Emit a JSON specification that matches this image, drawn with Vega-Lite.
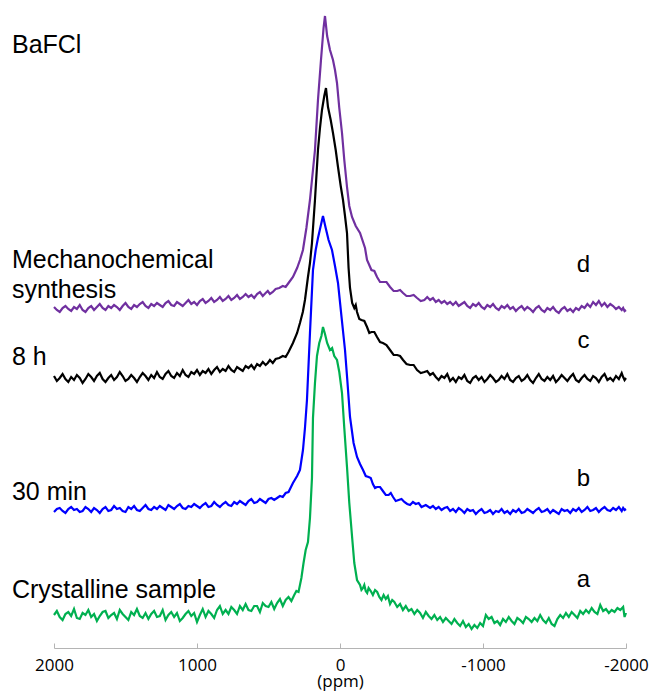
{
  "$schema": "https://vega.github.io/schema/vega-lite/v6.json",
  "width": 572,
  "height": 640,
  "autosize": "none",
  "padding": {"left": 54, "top": 8, "right": 25, "bottom": 50},
  "background": "white",
  "config": {"view": {"stroke": null}},
  "datasets": {
    "spectra": [
      {"s":"a","x":2000,"y":33},{"s":"a","x":1980,"y":37},{"s":"a","x":1960,"y":31},{"s":"a","x":1940,"y":28},{"s":"a","x":1920,"y":34},{"s":"a","x":1900,"y":36},{"s":"a","x":1880,"y":32},{"s":"a","x":1860,"y":39},{"s":"a","x":1840,"y":30},{"s":"a","x":1820,"y":29},{"s":"a","x":1800,"y":35},{"s":"a","x":1780,"y":33},{"s":"a","x":1760,"y":38},{"s":"a","x":1740,"y":31},{"s":"a","x":1720,"y":34},{"s":"a","x":1700,"y":27},{"s":"a","x":1680,"y":32},{"s":"a","x":1660,"y":36},{"s":"a","x":1640,"y":37},{"s":"a","x":1620,"y":30},{"s":"a","x":1600,"y":33},{"s":"a","x":1580,"y":35},{"s":"a","x":1560,"y":29},{"s":"a","x":1540,"y":38},{"s":"a","x":1520,"y":34},{"s":"a","x":1500,"y":31},{"s":"a","x":1480,"y":28},{"s":"a","x":1460,"y":36},{"s":"a","x":1440,"y":33},{"s":"a","x":1420,"y":39},{"s":"a","x":1400,"y":32},{"s":"a","x":1380,"y":30},{"s":"a","x":1360,"y":35},{"s":"a","x":1340,"y":29},{"s":"a","x":1320,"y":34},{"s":"a","x":1300,"y":37},{"s":"a","x":1280,"y":31},{"s":"a","x":1260,"y":32},{"s":"a","x":1240,"y":38},{"s":"a","x":1220,"y":28},{"s":"a","x":1200,"y":33},{"s":"a","x":1180,"y":36},{"s":"a","x":1160,"y":31},{"s":"a","x":1140,"y":35},{"s":"a","x":1120,"y":27},{"s":"a","x":1100,"y":30},{"s":"a","x":1080,"y":34},{"s":"a","x":1060,"y":37},{"s":"a","x":1040,"y":32},{"s":"a","x":1020,"y":35},{"s":"a","x":1000,"y":26},{"s":"a","x":980,"y":33},{"s":"a","x":960,"y":39},{"s":"a","x":940,"y":31},{"s":"a","x":920,"y":37},{"s":"a","x":900,"y":34},{"s":"a","x":880,"y":30},{"s":"a","x":860,"y":38},{"s":"a","x":840,"y":42},{"s":"a","x":820,"y":34},{"s":"a","x":800,"y":38},{"s":"a","x":780,"y":34},{"s":"a","x":760,"y":41},{"s":"a","x":740,"y":38},{"s":"a","x":720,"y":34},{"s":"a","x":700,"y":42},{"s":"a","x":680,"y":38},{"s":"a","x":660,"y":44},{"s":"a","x":640,"y":38},{"s":"a","x":620,"y":37},{"s":"a","x":600,"y":42},{"s":"a","x":580,"y":42},{"s":"a","x":560,"y":36},{"s":"a","x":540,"y":45},{"s":"a","x":520,"y":42},{"s":"a","x":500,"y":41},{"s":"a","x":480,"y":46},{"s":"a","x":460,"y":39},{"s":"a","x":440,"y":45},{"s":"a","x":420,"y":49},{"s":"a","x":400,"y":42},{"s":"a","x":380,"y":48},{"s":"a","x":360,"y":51},{"s":"a","x":340,"y":47},{"s":"a","x":320,"y":53},{"s":"a","x":305,"y":57},{"s":"a","x":290,"y":56},{"s":"a","x":270,"y":70},{"s":"a","x":255,"y":85},{"s":"a","x":240,"y":98},{"s":"a","x":224,"y":106},{"s":"a","x":210,"y":130},{"s":"a","x":196,"y":170},{"s":"a","x":189,"y":230},{"s":"a","x":175,"y":265},{"s":"a","x":161,"y":292},{"s":"a","x":145,"y":305},{"s":"a","x":130,"y":312},{"s":"a","x":119,"y":321},{"s":"a","x":105,"y":314},{"s":"a","x":90,"y":305},{"s":"a","x":70,"y":298},{"s":"a","x":55,"y":300},{"s":"a","x":40,"y":292},{"s":"a","x":21,"y":288},{"s":"a","x":5,"y":276},{"s":"a","x":-14,"y":255},{"s":"a","x":-30,"y":220},{"s":"a","x":-49,"y":181},{"s":"a","x":-65,"y":145},{"s":"a","x":-84,"y":112},{"s":"a","x":-100,"y":85},{"s":"a","x":-119,"y":68},{"s":"a","x":-140,"y":63},{"s":"a","x":-150,"y":58},{"s":"a","x":-161,"y":60},{"s":"a","x":-170,"y":63},{"s":"a","x":-180,"y":57},{"s":"a","x":-190,"y":55},{"s":"a","x":-200,"y":60},{"s":"a","x":-215,"y":57},{"s":"a","x":-230,"y":53},{"s":"a","x":-245,"y":58},{"s":"a","x":-260,"y":56},{"s":"a","x":-275,"y":51},{"s":"a","x":-290,"y":48},{"s":"a","x":-305,"y":53},{"s":"a","x":-320,"y":49},{"s":"a","x":-335,"y":52},{"s":"a","x":-350,"y":44},{"s":"a","x":-365,"y":48},{"s":"a","x":-380,"y":46},{"s":"a","x":-400,"y":41},{"s":"a","x":-420,"y":44},{"s":"a","x":-440,"y":38},{"s":"a","x":-460,"y":42},{"s":"a","x":-480,"y":37},{"s":"a","x":-500,"y":39},{"s":"a","x":-520,"y":34},{"s":"a","x":-540,"y":38},{"s":"a","x":-560,"y":35},{"s":"a","x":-580,"y":30},{"s":"a","x":-600,"y":36},{"s":"a","x":-620,"y":32},{"s":"a","x":-640,"y":29},{"s":"a","x":-660,"y":33},{"s":"a","x":-680,"y":28},{"s":"a","x":-700,"y":31},{"s":"a","x":-720,"y":26},{"s":"a","x":-740,"y":30},{"s":"a","x":-760,"y":27},{"s":"a","x":-780,"y":24},{"s":"a","x":-800,"y":29},{"s":"a","x":-820,"y":25},{"s":"a","x":-840,"y":22},{"s":"a","x":-860,"y":27},{"s":"a","x":-880,"y":21},{"s":"a","x":-900,"y":24},{"s":"a","x":-920,"y":19},{"s":"a","x":-940,"y":23},{"s":"a","x":-960,"y":20},{"s":"a","x":-980,"y":25},{"s":"a","x":-1000,"y":22},{"s":"a","x":-1020,"y":33},{"s":"a","x":-1040,"y":29},{"s":"a","x":-1060,"y":31},{"s":"a","x":-1080,"y":25},{"s":"a","x":-1100,"y":27},{"s":"a","x":-1120,"y":23},{"s":"a","x":-1140,"y":29},{"s":"a","x":-1160,"y":26},{"s":"a","x":-1180,"y":31},{"s":"a","x":-1200,"y":27},{"s":"a","x":-1220,"y":24},{"s":"a","x":-1240,"y":30},{"s":"a","x":-1260,"y":28},{"s":"a","x":-1280,"y":25},{"s":"a","x":-1300,"y":31},{"s":"a","x":-1320,"y":29},{"s":"a","x":-1340,"y":26},{"s":"a","x":-1360,"y":30},{"s":"a","x":-1380,"y":27},{"s":"a","x":-1400,"y":33},{"s":"a","x":-1420,"y":28},{"s":"a","x":-1440,"y":25},{"s":"a","x":-1460,"y":30},{"s":"a","x":-1480,"y":24},{"s":"a","x":-1500,"y":22},{"s":"a","x":-1520,"y":29},{"s":"a","x":-1540,"y":33},{"s":"a","x":-1560,"y":30},{"s":"a","x":-1580,"y":35},{"s":"a","x":-1600,"y":31},{"s":"a","x":-1620,"y":36},{"s":"a","x":-1640,"y":33},{"s":"a","x":-1660,"y":30},{"s":"a","x":-1680,"y":37},{"s":"a","x":-1700,"y":34},{"s":"a","x":-1720,"y":38},{"s":"a","x":-1740,"y":35},{"s":"a","x":-1760,"y":40},{"s":"a","x":-1780,"y":36},{"s":"a","x":-1800,"y":34},{"s":"a","x":-1820,"y":43},{"s":"a","x":-1840,"y":37},{"s":"a","x":-1860,"y":39},{"s":"a","x":-1880,"y":35},{"s":"a","x":-1900,"y":38},{"s":"a","x":-1920,"y":36},{"s":"a","x":-1940,"y":40},{"s":"a","x":-1960,"y":38},{"s":"a","x":-1980,"y":41},{"s":"a","x":-1990,"y":31},{"s":"a","x":-2000,"y":35},

      {"s":"b","x":2000,"y":136},{"s":"b","x":1980,"y":139},{"s":"b","x":1960,"y":140},{"s":"b","x":1940,"y":137},{"s":"b","x":1920,"y":135},{"s":"b","x":1900,"y":139},{"s":"b","x":1880,"y":141},{"s":"b","x":1860,"y":138},{"s":"b","x":1840,"y":139},{"s":"b","x":1820,"y":136},{"s":"b","x":1800,"y":137},{"s":"b","x":1780,"y":141},{"s":"b","x":1760,"y":139},{"s":"b","x":1740,"y":136},{"s":"b","x":1720,"y":140},{"s":"b","x":1700,"y":138},{"s":"b","x":1680,"y":135},{"s":"b","x":1660,"y":139},{"s":"b","x":1640,"y":141},{"s":"b","x":1620,"y":137},{"s":"b","x":1600,"y":138},{"s":"b","x":1580,"y":142},{"s":"b","x":1560,"y":139},{"s":"b","x":1540,"y":140},{"s":"b","x":1520,"y":137},{"s":"b","x":1500,"y":136},{"s":"b","x":1480,"y":141},{"s":"b","x":1460,"y":139},{"s":"b","x":1440,"y":142},{"s":"b","x":1420,"y":138},{"s":"b","x":1400,"y":137},{"s":"b","x":1380,"y":140},{"s":"b","x":1360,"y":143},{"s":"b","x":1340,"y":139},{"s":"b","x":1320,"y":138},{"s":"b","x":1300,"y":141},{"s":"b","x":1280,"y":139},{"s":"b","x":1260,"y":142},{"s":"b","x":1240,"y":140},{"s":"b","x":1220,"y":138},{"s":"b","x":1200,"y":143},{"s":"b","x":1180,"y":141},{"s":"b","x":1160,"y":139},{"s":"b","x":1140,"y":142},{"s":"b","x":1120,"y":144},{"s":"b","x":1100,"y":140},{"s":"b","x":1080,"y":139},{"s":"b","x":1060,"y":142},{"s":"b","x":1040,"y":141},{"s":"b","x":1020,"y":144},{"s":"b","x":1000,"y":142},{"s":"b","x":980,"y":140},{"s":"b","x":960,"y":143},{"s":"b","x":940,"y":145},{"s":"b","x":920,"y":141},{"s":"b","x":900,"y":142},{"s":"b","x":880,"y":146},{"s":"b","x":860,"y":143},{"s":"b","x":840,"y":141},{"s":"b","x":820,"y":144},{"s":"b","x":800,"y":146},{"s":"b","x":780,"y":143},{"s":"b","x":760,"y":142},{"s":"b","x":740,"y":146},{"s":"b","x":720,"y":144},{"s":"b","x":700,"y":147},{"s":"b","x":680,"y":145},{"s":"b","x":660,"y":143},{"s":"b","x":640,"y":147},{"s":"b","x":620,"y":149},{"s":"b","x":600,"y":145},{"s":"b","x":580,"y":146},{"s":"b","x":560,"y":149},{"s":"b","x":540,"y":147},{"s":"b","x":520,"y":145},{"s":"b","x":500,"y":149},{"s":"b","x":480,"y":150},{"s":"b","x":460,"y":148},{"s":"b","x":440,"y":150},{"s":"b","x":420,"y":152},{"s":"b","x":400,"y":151},{"s":"b","x":380,"y":155},{"s":"b","x":360,"y":156},{"s":"b","x":329,"y":165},{"s":"b","x":300,"y":172},{"s":"b","x":280,"y":178},{"s":"b","x":259,"y":198},{"s":"b","x":245,"y":220},{"s":"b","x":231,"y":248},{"s":"b","x":210,"y":315},{"s":"b","x":189,"y":378},{"s":"b","x":170,"y":398},{"s":"b","x":154,"y":410},{"s":"b","x":135,"y":422},{"s":"b","x":119,"y":432},{"s":"b","x":100,"y":420},{"s":"b","x":80,"y":408},{"s":"b","x":56,"y":398},{"s":"b","x":35,"y":382},{"s":"b","x":14,"y":365},{"s":"b","x":-10,"y":332},{"s":"b","x":-35,"y":298},{"s":"b","x":-50,"y":270},{"s":"b","x":-70,"y":231},{"s":"b","x":-95,"y":205},{"s":"b","x":-119,"y":191},{"s":"b","x":-140,"y":184},{"s":"b","x":-161,"y":178},{"s":"b","x":-180,"y":172},{"s":"b","x":-200,"y":171},{"s":"b","x":-215,"y":170},{"s":"b","x":-230,"y":164},{"s":"b","x":-245,"y":160},{"s":"b","x":-259,"y":161},{"s":"b","x":-280,"y":161},{"s":"b","x":-300,"y":157},{"s":"b","x":-320,"y":153},{"s":"b","x":-340,"y":153},{"s":"b","x":-355,"y":155},{"s":"b","x":-371,"y":151},{"s":"b","x":-390,"y":147},{"s":"b","x":-410,"y":148},{"s":"b","x":-430,"y":149},{"s":"b","x":-450,"y":146},{"s":"b","x":-470,"y":144},{"s":"b","x":-490,"y":143},{"s":"b","x":-510,"y":146},{"s":"b","x":-530,"y":144},{"s":"b","x":-550,"y":145},{"s":"b","x":-570,"y":141},{"s":"b","x":-600,"y":143},{"s":"b","x":-630,"y":140},{"s":"b","x":-650,"y":142},{"s":"b","x":-670,"y":139},{"s":"b","x":-690,"y":141},{"s":"b","x":-710,"y":138},{"s":"b","x":-730,"y":140},{"s":"b","x":-750,"y":141},{"s":"b","x":-770,"y":137},{"s":"b","x":-790,"y":139},{"s":"b","x":-810,"y":136},{"s":"b","x":-830,"y":140},{"s":"b","x":-850,"y":138},{"s":"b","x":-870,"y":135},{"s":"b","x":-890,"y":139},{"s":"b","x":-910,"y":137},{"s":"b","x":-930,"y":138},{"s":"b","x":-950,"y":134},{"s":"b","x":-970,"y":137},{"s":"b","x":-990,"y":139},{"s":"b","x":-1010,"y":135},{"s":"b","x":-1030,"y":136},{"s":"b","x":-1050,"y":138},{"s":"b","x":-1070,"y":134},{"s":"b","x":-1090,"y":137},{"s":"b","x":-1110,"y":136},{"s":"b","x":-1130,"y":139},{"s":"b","x":-1150,"y":135},{"s":"b","x":-1170,"y":137},{"s":"b","x":-1190,"y":134},{"s":"b","x":-1210,"y":138},{"s":"b","x":-1230,"y":136},{"s":"b","x":-1250,"y":139},{"s":"b","x":-1270,"y":135},{"s":"b","x":-1290,"y":136},{"s":"b","x":-1310,"y":139},{"s":"b","x":-1330,"y":137},{"s":"b","x":-1350,"y":135},{"s":"b","x":-1370,"y":138},{"s":"b","x":-1390,"y":140},{"s":"b","x":-1410,"y":136},{"s":"b","x":-1430,"y":137},{"s":"b","x":-1450,"y":139},{"s":"b","x":-1470,"y":135},{"s":"b","x":-1490,"y":138},{"s":"b","x":-1510,"y":136},{"s":"b","x":-1530,"y":134},{"s":"b","x":-1550,"y":139},{"s":"b","x":-1570,"y":137},{"s":"b","x":-1590,"y":138},{"s":"b","x":-1610,"y":135},{"s":"b","x":-1630,"y":139},{"s":"b","x":-1650,"y":137},{"s":"b","x":-1670,"y":140},{"s":"b","x":-1690,"y":136},{"s":"b","x":-1710,"y":138},{"s":"b","x":-1730,"y":141},{"s":"b","x":-1750,"y":137},{"s":"b","x":-1770,"y":138},{"s":"b","x":-1790,"y":140},{"s":"b","x":-1810,"y":136},{"s":"b","x":-1830,"y":139},{"s":"b","x":-1850,"y":141},{"s":"b","x":-1870,"y":138},{"s":"b","x":-1890,"y":137},{"s":"b","x":-1910,"y":140},{"s":"b","x":-1930,"y":138},{"s":"b","x":-1950,"y":141},{"s":"b","x":-1970,"y":137},{"s":"b","x":-1980,"y":140},{"s":"b","x":-1990,"y":138},{"s":"b","x":-2000,"y":139},

      {"s":"c","x":2000,"y":272},{"s":"c","x":1980,"y":267},{"s":"c","x":1960,"y":270},{"s":"c","x":1940,"y":274},{"s":"c","x":1920,"y":269},{"s":"c","x":1900,"y":266},{"s":"c","x":1880,"y":271},{"s":"c","x":1860,"y":268},{"s":"c","x":1840,"y":273},{"s":"c","x":1820,"y":270},{"s":"c","x":1800,"y":265},{"s":"c","x":1780,"y":269},{"s":"c","x":1760,"y":274},{"s":"c","x":1740,"y":271},{"s":"c","x":1720,"y":267},{"s":"c","x":1700,"y":272},{"s":"c","x":1680,"y":275},{"s":"c","x":1660,"y":269},{"s":"c","x":1640,"y":266},{"s":"c","x":1620,"y":270},{"s":"c","x":1600,"y":273},{"s":"c","x":1580,"y":268},{"s":"c","x":1560,"y":271},{"s":"c","x":1540,"y":276},{"s":"c","x":1520,"y":272},{"s":"c","x":1500,"y":267},{"s":"c","x":1480,"y":269},{"s":"c","x":1460,"y":273},{"s":"c","x":1440,"y":270},{"s":"c","x":1420,"y":266},{"s":"c","x":1400,"y":271},{"s":"c","x":1380,"y":275},{"s":"c","x":1360,"y":272},{"s":"c","x":1340,"y":268},{"s":"c","x":1320,"y":273},{"s":"c","x":1300,"y":270},{"s":"c","x":1280,"y":276},{"s":"c","x":1260,"y":271},{"s":"c","x":1240,"y":269},{"s":"c","x":1220,"y":274},{"s":"c","x":1200,"y":277},{"s":"c","x":1180,"y":272},{"s":"c","x":1160,"y":270},{"s":"c","x":1140,"y":275},{"s":"c","x":1120,"y":272},{"s":"c","x":1100,"y":278},{"s":"c","x":1080,"y":273},{"s":"c","x":1060,"y":271},{"s":"c","x":1040,"y":276},{"s":"c","x":1020,"y":274},{"s":"c","x":1000,"y":278},{"s":"c","x":980,"y":273},{"s":"c","x":960,"y":277},{"s":"c","x":940,"y":275},{"s":"c","x":920,"y":279},{"s":"c","x":900,"y":274},{"s":"c","x":880,"y":278},{"s":"c","x":860,"y":281},{"s":"c","x":840,"y":276},{"s":"c","x":820,"y":279},{"s":"c","x":800,"y":277},{"s":"c","x":780,"y":282},{"s":"c","x":760,"y":278},{"s":"c","x":740,"y":276},{"s":"c","x":720,"y":281},{"s":"c","x":700,"y":279},{"s":"c","x":680,"y":277},{"s":"c","x":660,"y":282},{"s":"c","x":640,"y":280},{"s":"c","x":620,"y":283},{"s":"c","x":600,"y":279},{"s":"c","x":580,"y":284},{"s":"c","x":560,"y":282},{"s":"c","x":540,"y":286},{"s":"c","x":520,"y":283},{"s":"c","x":505,"y":285},{"s":"c","x":490,"y":288},{"s":"c","x":470,"y":285},{"s":"c","x":450,"y":289},{"s":"c","x":425,"y":290},{"s":"c","x":400,"y":292},{"s":"c","x":380,"y":291},{"s":"c","x":360,"y":296},{"s":"c","x":329,"y":305},{"s":"c","x":300,"y":315},{"s":"c","x":280,"y":325},{"s":"c","x":260,"y":336},{"s":"c","x":245,"y":348},{"s":"c","x":225,"y":370},{"s":"c","x":210,"y":385},{"s":"c","x":196,"y":405},{"s":"c","x":175,"y":448},{"s":"c","x":154,"y":498},{"s":"c","x":140,"y":520},{"s":"c","x":126,"y":538},{"s":"c","x":110,"y":552},{"s":"c","x":98,"y":560},{"s":"c","x":84,"y":541},{"s":"c","x":65,"y":528},{"s":"c","x":49,"y":515},{"s":"c","x":30,"y":498},{"s":"c","x":14,"y":481},{"s":"c","x":-5,"y":462},{"s":"c","x":-21,"y":448},{"s":"c","x":-35,"y":432},{"s":"c","x":-49,"y":415},{"s":"c","x":-60,"y":380},{"s":"c","x":-70,"y":360},{"s":"c","x":-85,"y":345},{"s":"c","x":-100,"y":340},{"s":"c","x":-110,"y":343},{"s":"c","x":-119,"y":336},{"s":"c","x":-135,"y":329},{"s":"c","x":-150,"y":328},{"s":"c","x":-170,"y":327},{"s":"c","x":-189,"y":321},{"s":"c","x":-205,"y":315},{"s":"c","x":-220,"y":316},{"s":"c","x":-240,"y":316},{"s":"c","x":-259,"y":311},{"s":"c","x":-280,"y":306},{"s":"c","x":-300,"y":305},{"s":"c","x":-325,"y":303},{"s":"c","x":-350,"y":298},{"s":"c","x":-375,"y":293},{"s":"c","x":-400,"y":293},{"s":"c","x":-420,"y":292},{"s":"c","x":-441,"y":288},{"s":"c","x":-465,"y":284},{"s":"c","x":-490,"y":283},{"s":"c","x":-515,"y":283},{"s":"c","x":-539,"y":278},{"s":"c","x":-565,"y":275},{"s":"c","x":-590,"y":276},{"s":"c","x":-610,"y":277},{"s":"c","x":-630,"y":273},{"s":"c","x":-650,"y":275},{"s":"c","x":-670,"y":271},{"s":"c","x":-690,"y":268},{"s":"c","x":-710,"y":272},{"s":"c","x":-730,"y":270},{"s":"c","x":-750,"y":274},{"s":"c","x":-770,"y":267},{"s":"c","x":-790,"y":270},{"s":"c","x":-810,"y":266},{"s":"c","x":-830,"y":271},{"s":"c","x":-850,"y":269},{"s":"c","x":-870,"y":273},{"s":"c","x":-890,"y":267},{"s":"c","x":-910,"y":265},{"s":"c","x":-930,"y":270},{"s":"c","x":-950,"y":272},{"s":"c","x":-970,"y":268},{"s":"c","x":-990,"y":271},{"s":"c","x":-1010,"y":266},{"s":"c","x":-1030,"y":269},{"s":"c","x":-1050,"y":273},{"s":"c","x":-1070,"y":270},{"s":"c","x":-1090,"y":266},{"s":"c","x":-1110,"y":268},{"s":"c","x":-1130,"y":272},{"s":"c","x":-1150,"y":269},{"s":"c","x":-1170,"y":274},{"s":"c","x":-1190,"y":268},{"s":"c","x":-1210,"y":266},{"s":"c","x":-1230,"y":270},{"s":"c","x":-1250,"y":272},{"s":"c","x":-1270,"y":267},{"s":"c","x":-1290,"y":269},{"s":"c","x":-1310,"y":273},{"s":"c","x":-1330,"y":268},{"s":"c","x":-1350,"y":265},{"s":"c","x":-1370,"y":270},{"s":"c","x":-1390,"y":274},{"s":"c","x":-1410,"y":269},{"s":"c","x":-1430,"y":267},{"s":"c","x":-1450,"y":271},{"s":"c","x":-1470,"y":268},{"s":"c","x":-1490,"y":272},{"s":"c","x":-1510,"y":266},{"s":"c","x":-1530,"y":269},{"s":"c","x":-1550,"y":273},{"s":"c","x":-1570,"y":270},{"s":"c","x":-1590,"y":267},{"s":"c","x":-1610,"y":271},{"s":"c","x":-1630,"y":274},{"s":"c","x":-1650,"y":268},{"s":"c","x":-1670,"y":266},{"s":"c","x":-1690,"y":270},{"s":"c","x":-1710,"y":273},{"s":"c","x":-1730,"y":269},{"s":"c","x":-1750,"y":267},{"s":"c","x":-1770,"y":272},{"s":"c","x":-1790,"y":270},{"s":"c","x":-1810,"y":266},{"s":"c","x":-1830,"y":271},{"s":"c","x":-1850,"y":274},{"s":"c","x":-1870,"y":268},{"s":"c","x":-1890,"y":270},{"s":"c","x":-1910,"y":267},{"s":"c","x":-1930,"y":272},{"s":"c","x":-1950,"y":269},{"s":"c","x":-1970,"y":275},{"s":"c","x":-1980,"y":271},{"s":"c","x":-1990,"y":268},{"s":"c","x":-2000,"y":270},

      {"s":"d","x":2000,"y":341},{"s":"d","x":1980,"y":338},{"s":"d","x":1960,"y":336},{"s":"d","x":1940,"y":340},{"s":"d","x":1920,"y":342},{"s":"d","x":1900,"y":339},{"s":"d","x":1880,"y":337},{"s":"d","x":1860,"y":341},{"s":"d","x":1840,"y":339},{"s":"d","x":1820,"y":343},{"s":"d","x":1800,"y":338},{"s":"d","x":1780,"y":336},{"s":"d","x":1760,"y":340},{"s":"d","x":1740,"y":342},{"s":"d","x":1720,"y":338},{"s":"d","x":1700,"y":341},{"s":"d","x":1680,"y":344},{"s":"d","x":1660,"y":340},{"s":"d","x":1640,"y":338},{"s":"d","x":1620,"y":342},{"s":"d","x":1600,"y":340},{"s":"d","x":1580,"y":343},{"s":"d","x":1560,"y":341},{"s":"d","x":1540,"y":338},{"s":"d","x":1520,"y":342},{"s":"d","x":1500,"y":345},{"s":"d","x":1480,"y":341},{"s":"d","x":1460,"y":339},{"s":"d","x":1440,"y":343},{"s":"d","x":1420,"y":341},{"s":"d","x":1400,"y":344},{"s":"d","x":1380,"y":346},{"s":"d","x":1360,"y":342},{"s":"d","x":1340,"y":340},{"s":"d","x":1320,"y":344},{"s":"d","x":1300,"y":342},{"s":"d","x":1280,"y":345},{"s":"d","x":1260,"y":343},{"s":"d","x":1240,"y":341},{"s":"d","x":1220,"y":345},{"s":"d","x":1200,"y":347},{"s":"d","x":1180,"y":343},{"s":"d","x":1160,"y":342},{"s":"d","x":1140,"y":346},{"s":"d","x":1120,"y":344},{"s":"d","x":1100,"y":342},{"s":"d","x":1080,"y":345},{"s":"d","x":1060,"y":348},{"s":"d","x":1040,"y":344},{"s":"d","x":1020,"y":346},{"s":"d","x":1000,"y":343},{"s":"d","x":980,"y":347},{"s":"d","x":960,"y":349},{"s":"d","x":940,"y":345},{"s":"d","x":920,"y":347},{"s":"d","x":900,"y":350},{"s":"d","x":880,"y":346},{"s":"d","x":860,"y":348},{"s":"d","x":840,"y":351},{"s":"d","x":820,"y":347},{"s":"d","x":800,"y":349},{"s":"d","x":780,"y":352},{"s":"d","x":760,"y":348},{"s":"d","x":740,"y":350},{"s":"d","x":720,"y":353},{"s":"d","x":700,"y":349},{"s":"d","x":680,"y":351},{"s":"d","x":660,"y":354},{"s":"d","x":640,"y":351},{"s":"d","x":620,"y":353},{"s":"d","x":600,"y":350},{"s":"d","x":580,"y":354},{"s":"d","x":560,"y":356},{"s":"d","x":540,"y":352},{"s":"d","x":520,"y":355},{"s":"d","x":505,"y":357},{"s":"d","x":490,"y":354},{"s":"d","x":470,"y":356},{"s":"d","x":450,"y":359},{"s":"d","x":425,"y":360},{"s":"d","x":400,"y":362},{"s":"d","x":380,"y":361},{"s":"d","x":360,"y":365},{"s":"d","x":329,"y":371},{"s":"d","x":300,"y":380},{"s":"d","x":280,"y":388},{"s":"d","x":259,"y":398},{"s":"d","x":235,"y":420},{"s":"d","x":210,"y":448},{"s":"d","x":175,"y":498},{"s":"d","x":154,"y":548},{"s":"d","x":133,"y":588},{"s":"d","x":115,"y":620},{"s":"d","x":105,"y":632},{"s":"d","x":90,"y":612},{"s":"d","x":70,"y":598},{"s":"d","x":49,"y":588},{"s":"d","x":35,"y":578},{"s":"d","x":21,"y":565},{"s":"d","x":5,"y":540},{"s":"d","x":-14,"y":515},{"s":"d","x":-30,"y":488},{"s":"d","x":-49,"y":461},{"s":"d","x":-65,"y":442},{"s":"d","x":-84,"y":431},{"s":"d","x":-110,"y":422},{"s":"d","x":-140,"y":415},{"s":"d","x":-175,"y":400},{"s":"d","x":-189,"y":388},{"s":"d","x":-220,"y":378},{"s":"d","x":-240,"y":377},{"s":"d","x":-259,"y":371},{"s":"d","x":-280,"y":366},{"s":"d","x":-300,"y":366},{"s":"d","x":-325,"y":366},{"s":"d","x":-350,"y":361},{"s":"d","x":-375,"y":357},{"s":"d","x":-400,"y":357},{"s":"d","x":-420,"y":358},{"s":"d","x":-441,"y":355},{"s":"d","x":-465,"y":352},{"s":"d","x":-490,"y":352},{"s":"d","x":-515,"y":353},{"s":"d","x":-539,"y":350},{"s":"d","x":-565,"y":347},{"s":"d","x":-590,"y":348},{"s":"d","x":-610,"y":351},{"s":"d","x":-630,"y":348},{"s":"d","x":-650,"y":350},{"s":"d","x":-670,"y":346},{"s":"d","x":-690,"y":348},{"s":"d","x":-710,"y":345},{"s":"d","x":-730,"y":347},{"s":"d","x":-750,"y":344},{"s":"d","x":-770,"y":346},{"s":"d","x":-790,"y":343},{"s":"d","x":-810,"y":346},{"s":"d","x":-830,"y":342},{"s":"d","x":-850,"y":344},{"s":"d","x":-870,"y":346},{"s":"d","x":-890,"y":342},{"s":"d","x":-910,"y":340},{"s":"d","x":-930,"y":344},{"s":"d","x":-950,"y":342},{"s":"d","x":-970,"y":345},{"s":"d","x":-990,"y":341},{"s":"d","x":-1010,"y":339},{"s":"d","x":-1030,"y":343},{"s":"d","x":-1050,"y":341},{"s":"d","x":-1070,"y":344},{"s":"d","x":-1090,"y":340},{"s":"d","x":-1110,"y":338},{"s":"d","x":-1130,"y":342},{"s":"d","x":-1150,"y":340},{"s":"d","x":-1170,"y":343},{"s":"d","x":-1190,"y":339},{"s":"d","x":-1210,"y":341},{"s":"d","x":-1230,"y":337},{"s":"d","x":-1250,"y":340},{"s":"d","x":-1270,"y":342},{"s":"d","x":-1290,"y":338},{"s":"d","x":-1310,"y":341},{"s":"d","x":-1330,"y":339},{"s":"d","x":-1350,"y":336},{"s":"d","x":-1370,"y":340},{"s":"d","x":-1390,"y":342},{"s":"d","x":-1410,"y":338},{"s":"d","x":-1430,"y":336},{"s":"d","x":-1450,"y":340},{"s":"d","x":-1470,"y":338},{"s":"d","x":-1490,"y":341},{"s":"d","x":-1510,"y":337},{"s":"d","x":-1530,"y":335},{"s":"d","x":-1550,"y":339},{"s":"d","x":-1570,"y":341},{"s":"d","x":-1590,"y":337},{"s":"d","x":-1610,"y":339},{"s":"d","x":-1630,"y":336},{"s":"d","x":-1650,"y":340},{"s":"d","x":-1670,"y":338},{"s":"d","x":-1690,"y":342},{"s":"d","x":-1710,"y":340},{"s":"d","x":-1730,"y":344},{"s":"d","x":-1750,"y":341},{"s":"d","x":-1770,"y":346},{"s":"d","x":-1790,"y":343},{"s":"d","x":-1810,"y":347},{"s":"d","x":-1830,"y":342},{"s":"d","x":-1850,"y":345},{"s":"d","x":-1870,"y":341},{"s":"d","x":-1890,"y":344},{"s":"d","x":-1910,"y":342},{"s":"d","x":-1930,"y":339},{"s":"d","x":-1950,"y":341},{"s":"d","x":-1970,"y":338},{"s":"d","x":-1980,"y":340},{"s":"d","x":-1990,"y":337},{"s":"d","x":-2000,"y":338}
    ],
    "leftLabels": [
      {"label": "BaFCl", "x": 2294, "y": 595},
      {"label": "Mechanochemical", "x": 2294, "y": 380},
      {"label": "synthesis", "x": 2294, "y": 350},
      {"label": "8 h", "x": 2294, "y": 283},
      {"label": "30 min", "x": 2294, "y": 148},
      {"label": "Crystalline sample", "x": 2294, "y": 50}
    ],
    "rightLabels": [
      {"label": "d", "x": -1702, "y": 376},
      {"label": "c", "x": -1702, "y": 300},
      {"label": "b", "x": -1702, "y": 162},
      {"label": "a", "x": -1702, "y": 61}
    ]
  },
  "layer": [
    {
      "data": {"name": "spectra"},
      "mark": {"type": "line", "strokeWidth": 2.2, "interpolate": "linear"},
      "encoding": {
        "x": {
          "field": "x", "type": "quantitative",
          "scale": {"domain": [2000, -2000], "nice": false, "zero": false},
          "axis": {
            "values": [2000, 1000, 0, -1000, -2000],
            "labelExpr": "'' + datum.value",
            "title": "(ppm)",
            "grid": false,
            "domainColor": "#b4b4b4",
            "domainWidth": 1,
            "tickColor": "#b4b4b4",
            "tickSize": -5,
            "labelPadding": 14,
            "labelFont": "Open Sans",
            "labelFontSize": 17,
            "labelColor": "#000000",
            "labelFlush": false,
            "labelOverlap": false,
            "titleFont": "Open Sans",
            "titleFontSize": 17,
            "titleFontWeight": "normal",
            "titleColor": "#000000",
            "titlePadding": 0
          }
        },
        "y": {
          "field": "y", "type": "quantitative",
          "scale": {"domain": [0, 640], "nice": false, "zero": false},
          "axis": null
        },
        "color": {
          "field": "s", "type": "nominal",
          "scale": {"domain": ["a", "b", "c", "d"], "range": ["#00b050", "#0000ff", "#000000", "#7030a0"]},
          "legend": null
        }
      }
    },
    {
      "data": {"name": "leftLabels"},
      "mark": {"type": "text", "align": "left", "baseline": "alphabetic", "font": "Liberation Sans", "fontSize": 25, "color": "#000000"},
      "encoding": {
        "x": {"field": "x", "type": "quantitative"},
        "y": {"field": "y", "type": "quantitative"},
        "text": {"field": "label"}
      }
    },
    {
      "data": {"name": "rightLabels"},
      "mark": {"type": "text", "align": "center", "baseline": "alphabetic", "font": "Liberation Sans", "fontSize": 24, "color": "#000000"},
      "encoding": {
        "x": {"field": "x", "type": "quantitative"},
        "y": {"field": "y", "type": "quantitative"},
        "text": {"field": "label"}
      }
    }
  ]
}
